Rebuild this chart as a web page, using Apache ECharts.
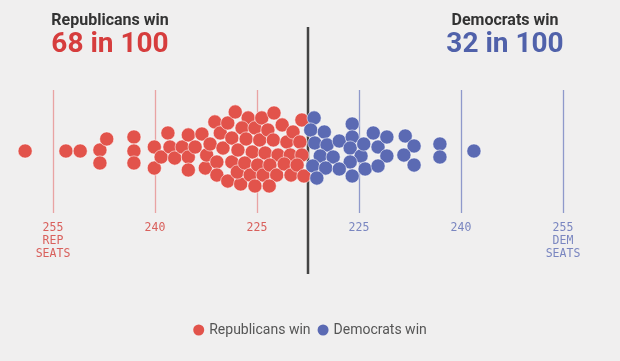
<!DOCTYPE html>
<html>
<head>
<meta charset="utf-8">
<script src="https://cdn.jsdelivr.net/npm/echarts@6/dist/echarts.min.js"></script>
<style>
html,body{margin:0;padding:0;background:#f0efef;}
#chart{width:620px;height:361px;}
</style>
</head>
<body>
<div id="chart"></div>
<script>
// Republican-win simulations: Republican seat count (jittered position) and vertical swarm offset
const repSeats = [259.1, 253.1, 251.0, 248.1, 247.1, 248.1, 243.1, 243.1, 243.1, 240.1,
  240.1, 239.1, 238.1, 237.8, 237.1, 236.0, 235.1, 235.1, 235.1, 234.1,
  233.1, 232.6, 232.4, 231.2, 230.4, 231.9, 230.9, 230.9, 230.0, 229.3,
  228.7, 228.2, 228.7, 229.3, 227.8, 227.4, 227.9, 226.3, 227.2, 226.6,
  225.7, 226.8, 226.0, 225.3, 224.3, 224.6, 223.8, 224.9, 224.1, 225.3,
  223.4, 222.5, 222.6, 221.9, 223.1, 222.1, 223.2, 221.3, 220.6, 220.1,
  221.0, 220.0, 219.7, 218.4, 218.7, 218.4, 219.1, 218.1];
const repOffset = [-0.15, -0.15, -0.15, 0, 1.62, -1.91, 1.91, -0.15, -1.91, 0.44,
  -2.65, -1.03, 2.5, 0.44, -1.18, 0.44, 2.21, -1.03, -2.94, 0.44,
  2.35, -2.65, -0.74, 4.12, 2.5, 0.88, -1.76, -3.68, 0.29, 3.97,
  1.76, 5.59, -1.76, -4.56, 0, -5.0, -3.24, 4.71, 3.24, 1.62,
  -0.29, -1.91, -3.68, 3.24, 4.71, 1.47, -0.44, -2.21, -3.68, -5.29,
  2.94, 5.44, 1.47, -0.74, -2.21, -3.68, -5.29, 3.68, 1.18, -0.74,
  -2.06, -3.68, 2.65, 4.41, 1.18, -0.74, -2.21, -3.82];
// Democratic-win simulations: Democratic seat count and vertical swarm offset
const demSeats = [218.4, 217.9, 219.9, 218.5, 220.3, 219.3, 221.2, 218.2, 220.1, 218.8,
  222.1, 224.0, 224.0, 223.7, 225.3, 223.7, 222.1, 224.0, 225.9, 225.7,
  227.1, 227.8, 229.1, 229.1, 227.8, 231.8, 233.1, 231.6, 233.1, 236.9,
  236.9, 241.9];
const demOffset = [4.71, 2.94, 2.65, 1.03, 0.74, -0.88, -1.03, -2.35, -2.65, -4.12,
  1.32, 3.82, 1.91, 0.29, -0.88, -1.76, -2.79, -3.82, -2.79, 0.88,
  2.5, 0.44, 1.91, -0.88, -2.35, 2.06, 0.59, -0.74, -2.21, 0.88,
  -1.03, -0.15];
const tickValues = [180, 195, 210, 225, 240, 255]; // axis in Democratic seats
const tickLabels = ['255\nREP\nSEATS', '240', '225', '225', '240', '255\nDEM\nSEATS'];
const totalSeats = 435;
const majority = 217.5;
const repChance = 68, demChance = 32;

const RED = '#e2534b', BLUE = '#5b6ab3';
const RED_T = '#d63d3d', BLUE_T = '#5061aa';
const RED_L = '#e9a3a3', BLUE_L = '#8f99cb';
const RED_LBL = '#d9605c', BLUE_LBL = '#7a86c0';

const repData = repSeats.map((s, i) => [totalSeats - s, repOffset[i]]);
const demData = demSeats.map((s, i) => [s, demOffset[i]]);

const refLines = tickValues.map(v => ({
  xAxis: v,
  lineStyle: {color: v < majority ? RED_L : BLUE_L, width: 1.3, type: 'solid'}
}));

const chart = echarts.init(document.getElementById('chart'), null, {renderer: 'canvas'});
chart.setOption({
  animation: false,
  backgroundColor: '#f0efef',
  graphic: [
    {type: 'text', x: 110, y: 21, style: {text: 'Republicans win', fill: '#333', font: 'bold 16px Roboto', textAlign: 'center', textVerticalAlign: 'middle'}},
    {type: 'text', x: 110, y: 44.5, style: {text: repChance + ' in 100', fill: RED_T, font: 'bold 28px Roboto', textAlign: 'center', textVerticalAlign: 'middle'}},
    {type: 'text', x: 505, y: 21, style: {text: 'Democrats win', fill: '#333', font: 'bold 16px Roboto', textAlign: 'center', textVerticalAlign: 'middle'}},
    {type: 'text', x: 505, y: 44.5, style: {text: demChance + ' in 100', fill: BLUE_T, font: 'bold 28px Roboto', textAlign: 'center', textVerticalAlign: 'middle'}}
  ],
  legend: {
    bottom: 19, left: 'center', icon: 'circle', itemWidth: 11, itemHeight: 11, itemGap: 7,
    textStyle: {color: '#555', fontSize: 14, fontFamily: 'Roboto'},
    itemStyle: {borderWidth: 0},
    data: ['Republicans win', 'Democrats win']
  },
  grid: [
    {left: 53, right: 57, top: 90, bottom: 148},
    {left: 53, right: 57, top: 27, bottom: 87}
  ],
  xAxis: [
    {
      type: 'value', gridIndex: 0, min: 180, max: 255, interval: 15,
      axisLine: {show: false}, axisTick: {show: false}, splitLine: {show: false},
      axisLabel: {
        margin: 9, fontFamily: 'DejaVu Sans Mono', fontSize: 11.5, lineHeight: 13,
        color: v => (v < majority ? RED_LBL : BLUE_LBL),
        formatter: v => tickLabels[tickValues.indexOf(v)] || ''
      }
    },
    {type: 'value', gridIndex: 1, min: 180, max: 255, show: false}
  ],
  yAxis: [
    {type: 'value', gridIndex: 0, min: -9.26, max: 8.82, show: false},
    {type: 'value', gridIndex: 1, min: 0, max: 1, show: false}
  ],
  series: [
    {
      name: 'seat lines', type: 'scatter', xAxisIndex: 0, yAxisIndex: 0, z: 1, silent: true,
      data: [],
      markLine: {silent: true, z: 1, symbol: 'none', label: {show: false}, animation: false, data: refLines}
    },
    {
      name: 'majority', type: 'line', xAxisIndex: 1, yAxisIndex: 1, z: 1,
      symbol: 'none', silent: true,
      lineStyle: {color: '#444', width: 2.5},
      data: [
        {value: [majority, 0], label: {show: true, position: 'bottom', distance: 10, formatter: 'MAJORITY', color: '#444', fontFamily: 'DejaVu Sans Mono', fontSize: 11.5}},
        [majority, 1]
      ]
    },
    {
      name: 'Republicans win', type: 'scatter', xAxisIndex: 0, yAxisIndex: 0, z: 3, clip: false,
      symbolSize: 14.2,
      itemStyle: {color: RED, opacity: 1, borderColor: 'rgba(255,255,255,0.55)', borderWidth: 1},
      data: repData
    },
    {
      name: 'Democrats win', type: 'scatter', xAxisIndex: 0, yAxisIndex: 0, z: 3, clip: false,
      symbolSize: 14.2,
      itemStyle: {color: BLUE, opacity: 1, borderColor: 'rgba(255,255,255,0.55)', borderWidth: 1},
      data: demData
    }
  ]
});
</script>
</body>
</html>
